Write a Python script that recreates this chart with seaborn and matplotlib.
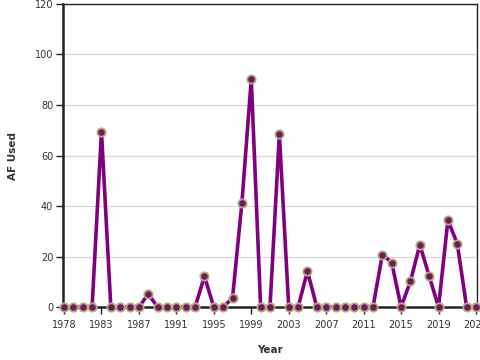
import matplotlib
matplotlib.use("Agg")
import matplotlib.pyplot as plt
import seaborn as sns
import pandas as pd

years = list(range(1979, 2024))
af_used = [0, 0, 0, 0, 69.5, 0, 0, 0, 0, 5.2, 0, 0, 0, 0, 0, 12.2, 0, 0, 3.6, 41.3,
           90.2, 0, 0, 68.4, 0, 0, 14.2, 0, 0, 0, 0, 0, 0, 0, 20.8, 17.6, 0, 10.2, 24.7, 12.3,
           0, 34.4, 25.1, 0, 0]
tick_years = years[::4]
tick_labels = ["1978", "1983", "1987", "1991", "1995", "1999", "2003", "2007", "2011", "2015", "2019", "2023"]
y_ticks = [0, 20, 40, 60, 80, 100, 120]

df = pd.DataFrame({"Year": years, "AF Used": af_used})

sns.set_theme(style="white")
plt.rcParams['font.family'] = ['DejaVu Sans']

fig = plt.figure(figsize=(4.8, 3.6), dpi=100)
ax = fig.add_axes([0.131, 0.147, 0.863, 0.842])

sns.lineplot(data=df, x="Year", y="AF Used", ax=ax, color="#800080", linewidth=2.6,
             marker="o", markersize=6, markerfacecolor="#6e1a5e",
             markeredgecolor="#b5aa80", markeredgewidth=1.3, clip_on=False, zorder=5)

ax.set_xlim(years[0] - 0.12, years[-1] + 0.12)
ax.set_ylim(0, 120)
ax.set_yticks(y_ticks)
ax.set_yticklabels([str(v) for v in y_ticks])
ax.set_xticks(tick_years)
ax.set_xticklabels(tick_labels)
ax.yaxis.grid(True, color="#d8d8d8", linewidth=0.9)
ax.xaxis.grid(False)
ax.set_axisbelow(True)

for side in ["top", "right"]:
    ax.spines[side].set_color("#222222")
    ax.spines[side].set_linewidth(1.0)
for side in ["left", "bottom"]:
    ax.spines[side].set_color("#222222")
    ax.spines[side].set_linewidth(1.8)

ax.tick_params(axis="both", which="major", length=5, width=1, color="#222222",
               labelsize=7, labelcolor="#333333", direction="out", bottom=True, left=True, pad=2)
ax.tick_params(axis="x", pad=4)

ax.set_xlabel("Year", fontsize=7.5, fontweight="bold", color="#333333", labelpad=11)
ax.set_ylabel("AF Used", fontsize=7.5, fontweight="bold", color="#333333", labelpad=12)

fig.savefig("out.png", dpi=100)
